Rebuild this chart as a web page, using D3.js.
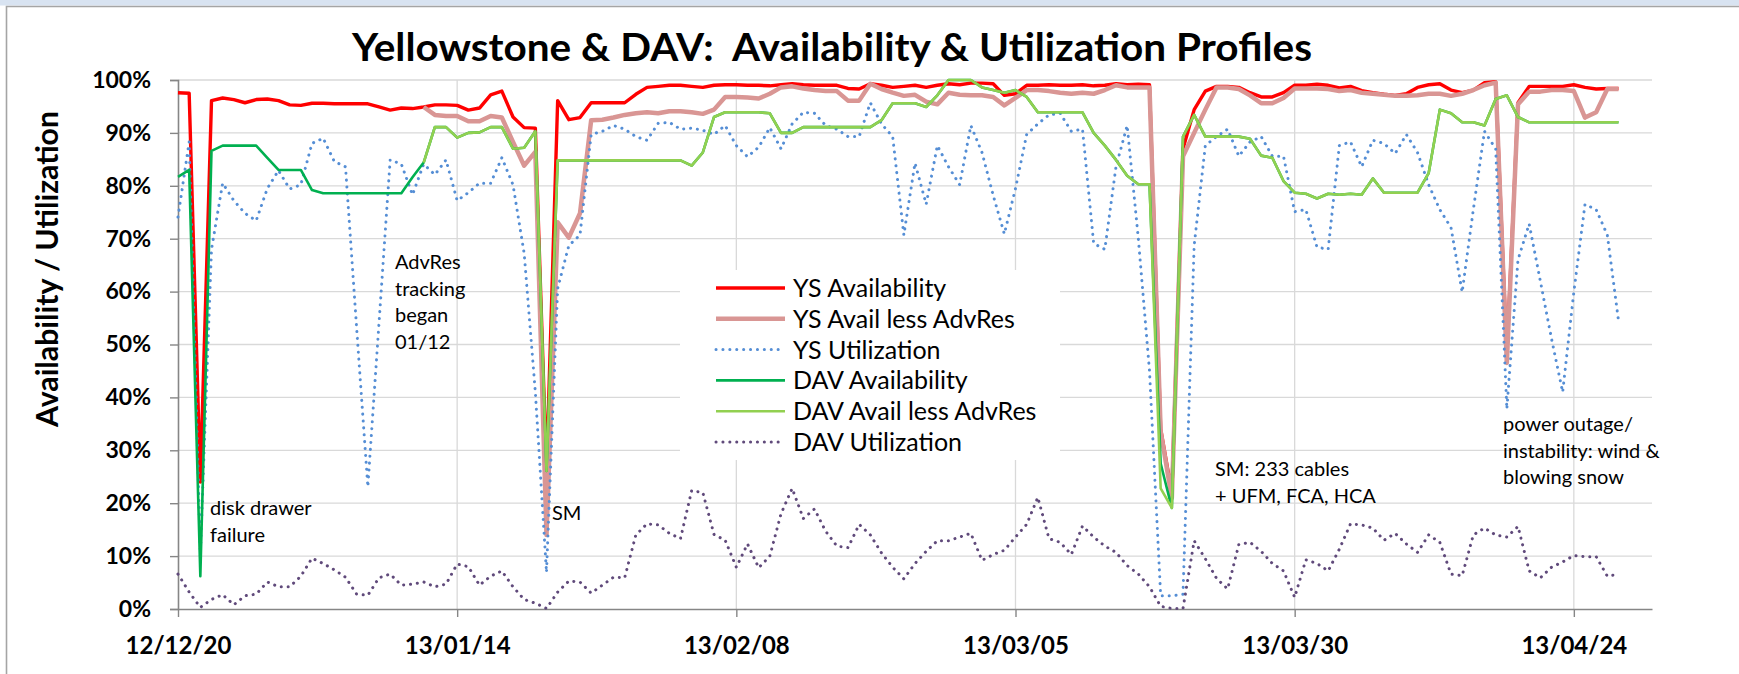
<!DOCTYPE html>
<html><head><meta charset="utf-8">
<script src="https://cdn.jsdelivr.net/npm/d3@7"></script>
<style>
body{margin:0;background:#fff;}
svg{display:block;}
text{font-family:Lato,"Open Sans",sans-serif;}
</style>
</head><body>
<svg id="chart" width="1739" height="674"></svg>
<script>
// ---------------- DATA ----------------
const titleText = "Yellowstone & DAV:  Availability & Utilization Profiles";
const yAxisTitle = "Availability / Utilization";
const startDate = "2012-12-20";
const axisEndDate = "2013-05-01";
const xTickDates = ["2012-12-20","2013-01-14","2013-02-08","2013-03-05","2013-03-30","2013-04-24"];
const yTickValues = [0,10,20,30,40,50,60,70,80,90,100];
const seriesNames = ["YS Availability","YS Avail less AdvRes","YS Utilization","DAV Availability","DAV Avail less AdvRes","DAV Utilization"];

const ysAvail = [
 97.6,97.5,24,96.1,96.6,96.3,95.7,96.3,96.4,96.1,
 95.3,95.2,95.6,95.6,95.5,95.5,95.5,95.5,94.9,94.3,
 94.7,94.6,94.9,95.3,95.3,95.2,94.3,94.7,97.2,97.9,
 93.0,91.0,90.9,26,96.1,92.5,92.9,95.7,95.7,95.7,
 95.7,97.3,98.6,98.8,99.0,99.0,98.8,98.6,99.0,99.1,
 99.1,99.0,99.0,98.9,99.1,99.3,99.1,99.0,99.0,99.0,
 98.4,98.3,99.3,99.0,98.6,98.8,99.0,98.6,99.0,99.3,
 99.1,99.4,99.4,99.3,97.1,97.4,99.0,99.0,99.1,99.0,
 99.0,99.1,98.9,99.0,99.3,99.1,99.2,99.1,34,22,
 87,94.4,97.9,98.8,98.8,98.6,97.6,96.8,96.8,97.6,
 99.0,99.0,99.2,99.0,98.5,98.8,98.0,97.6,97.3,97.1,
 97.4,98.6,99.1,99.3,98.1,97.6,98.1,99.5,99.7,48,
 95.7,98.8,98.8,98.8,98.8,99.1,98.6,98.3,98.4,98.4];

const ysAvailLessAdvRes = [
 null,null,null,null,null,null,null,null,null,null,
 null,null,null,null,null,null,null,null,null,null,
 null,null,94.9,93.4,93.2,93.2,92.2,92.2,93.2,92.9,
 88.3,83.8,86.4,14.0,73.1,70.2,74.8,92.4,92.5,92.9,
 93.4,93.7,93.9,93.7,94.1,94.1,93.9,93.6,94.4,96.8,
 96.8,96.7,96.5,97.4,98.6,98.8,98.4,98.1,97.9,97.9,
 96.1,96.1,99.3,98.3,97.6,97.0,97.2,95.9,95.4,97.6,
 97.2,97.1,97.1,96.8,95.2,96.6,98.1,98.1,97.9,97.6,
 97.4,97.6,97.4,98.1,99.0,98.6,98.6,98.6,33.6,21,
 85.6,90.0,94.4,98.6,98.6,98.3,97.1,95.6,95.6,96.6,
 98.4,98.4,98.4,98.3,97.9,98.1,97.6,97.4,97.2,97.0,
 97.0,97.1,97.4,97.4,97.0,97.4,98.1,99.0,99.5,46.5,
 95.4,97.8,97.8,98.1,98.1,97.9,92.9,93.9,98.3,98.3];

const ysUtil = [
 74.1,88.3,10,68,80.5,77.2,74.8,73.4,79.5,82.9,
 79.4,80.2,88.0,89.0,84.6,83.6,53,23.1,54,84.9,
 84.1,78.3,84.1,82.1,84.9,77.2,78.7,80.5,80.5,85.3,
 80.2,67.2,41,6.9,60.6,68.7,70.7,89.7,90.3,91.4,
 90.7,89.3,88.6,91.8,92.0,90.7,90.9,90.5,89.7,91.4,
 87.6,85.5,87.3,91.0,87.0,91.7,93.9,93.7,91.4,90.7,
 89.3,89.3,95.7,91.7,89.3,70.7,84.3,76.5,87.6,83.6,
 80.2,91.4,86.3,78.2,70.9,79.5,89.7,91.7,93.4,93.7,
 90.3,90.7,69.1,68.0,83.6,91.4,70,45,2.5,2.5,
 2.8,68.7,87.6,89.3,90.7,85.6,88.3,89.3,85.6,85.6,
 75.1,75.5,68.4,68.0,87.6,88.3,83.6,88.6,88.0,86.1,
 89.7,86.3,80.2,75.5,72.1,59.9,75.5,90.3,87.0,37.8,
 66.0,72.8,62.0,51.1,41.0,59.9,76.5,75.5,70.7,54.5];

const davAvail = [
 81.7,83.0,6.2,86.6,87.6,87.6,87.6,87.6,85.3,83.0,
 83.0,83.0,79.2,78.6,78.6,78.6,78.6,78.6,78.6,78.6,
 78.6,81.6,84.4,91.1,91.1,89.1,90.0,90.1,91.1,91.1,
 87.0,87.2,90.3,26.1,84.8,84.8,84.8,84.8,84.8,84.8,
 84.8,84.8,84.8,84.8,84.8,84.8,83.8,86.3,93.0,93.9,
 93.9,93.9,93.9,93.7,90.0,90.0,91.1,91.1,91.1,91.1,
 91.1,91.1,91.1,92.4,95.6,95.6,95.6,94.9,97.1,100,
 100,100,98.6,98.1,97.6,98.1,96.8,93.9,93.9,93.9,
 93.9,93.9,90.0,87.6,84.9,81.9,80.3,80.3,27.5,19.1,
 89.3,93.4,89.3,89.3,89.3,89.3,88.9,85.7,85.3,80.9,
 78.7,78.5,77.6,78.5,78.3,78.5,78.3,81.4,78.7,78.7,
 78.7,78.7,82.4,94.4,93.7,92.0,92.0,91.4,96.4,97.1,
 93.0,92.0,92.0,92.0,92.0,92.0,92.0,92.0,92.0,92.0];

const davAvailLessAdvRes = [
 null,null,null,null,null,null,null,null,null,null,
 null,null,null,null,null,null,null,null,null,null,
 null,null,84.4,91.1,91.1,89.1,90.0,90.1,91.1,91.1,
 87.0,87.2,90.3,26.1,84.8,84.8,84.8,84.8,84.8,84.8,
 84.8,84.8,84.8,84.8,84.8,84.8,83.8,86.3,93.0,93.9,
 93.9,93.9,93.9,93.7,90.0,90.0,91.1,91.1,91.1,91.1,
 91.1,91.1,91.1,92.4,95.6,95.6,95.6,94.9,97.1,100,
 100,100,98.6,98.1,97.6,98.1,96.8,93.9,93.9,93.9,
 93.9,93.9,90.0,87.6,84.9,81.9,80.3,80.3,22.8,19.1,
 89.3,93.4,89.3,89.3,89.3,89.3,88.9,85.7,85.3,80.9,
 78.7,78.5,77.6,78.5,78.3,78.5,78.3,81.4,78.7,78.7,
 78.7,78.7,82.4,94.4,93.7,92.0,92.0,91.4,96.4,97.1,
 93.0,92.0,92.0,92.0,92.0,92.0,92.0,92.0,92.0,92.0];

const davUtil = [
 6.6,3.2,0.3,1.8,2.7,0.8,2.5,2.8,5.1,4.2,
 4.2,6.2,9.6,8.6,7.4,6.0,2.8,2.6,5.9,6.6,
 4.5,4.7,5.1,4.2,4.7,8.5,8.0,4.5,6.2,7.2,
 4.2,1.8,1.1,0.1,3.2,5.3,5.1,3.0,4.5,6.0,
 5.9,14.0,16.1,15.9,14.3,13.3,22.4,22.0,14.1,13.0,
 7.9,12.3,7.8,10.0,18.0,22.8,17.1,18.9,14.7,11.9,
 11.6,16.0,14.0,10.6,7.9,5.7,8.6,10.9,12.9,12.9,
 13.6,14.3,9.2,10.3,11.1,13.6,16.0,21.1,13.3,12.6,
 10.3,15.7,13.6,11.9,10.7,8.2,6.6,4.2,0.5,0.1,
 0.1,12.9,9.5,5.8,3.8,12.2,12.6,10.9,8.6,7.2,
 2.2,9.3,8.6,7.2,11.3,16.1,15.9,15.3,13.0,14.3,
 12.3,10.7,14.0,12.6,6.6,6.3,14.0,15.3,14.0,13.6,
 15.6,7.2,5.9,7.9,8.9,10.1,9.9,9.9,6.2,6.6];

const annotations = [
  {lines:["disk drawer","failure"], x:210, y:515},
  {lines:["AdvRes","tracking","began","01/12"], x:395, y:269},
  {lines:["SM"], x:552, y:520},
  {lines:["SM: 233 cables","+ UFM, FCA, HCA"], x:1215, y:476},
  {lines:["power outage/","instability: wind &","blowing snow"], x:1503, y:431}
];

// ---------------- STYLES ----------------
const styles = [
  {color:"#FF0000", width:3.4, dash:null},
  {color:"#D99694", width:4.5, dash:null},
  {color:"#558ED5", width:3.0, dash:"0.1 6.8"},
  {color:"#00B050", width:2.6, dash:null},
  {color:"#92D050", width:2.6, dash:null},
  {color:"#604A7B", width:3.0, dash:"0.1 6.8"}
];
const seriesValues = [ysAvail, ysAvailLessAdvRes, ysUtil, davAvail, davAvailLessAdvRes, davUtil];

// ---------------- CHART ----------------
const svg = d3.select("#chart");
const W = 1739, H = 674;
const m = {left:178, right:1652, top:80, bottom:609};
const parse = d3.utcParse("%Y-%m-%d");
const start = parse(startDate);
const dates = d3.utcDay.range(start, d3.utcDay.offset(start, ysAvail.length));

const x = d3.scaleUtc().domain([start, parse(axisEndDate)]).range([m.left, m.right]);
const y = d3.scaleLinear().domain([0,100]).range([m.bottom, m.top]);

// slide-like frame
svg.append("rect").attr("x",0).attr("y",0).attr("width",W).attr("height",5.5).attr("fill","#D8E3F1");
svg.append("path").attr("d",`M6.5,${H} V6.5 H${W}`).attr("fill","none").attr("stroke","#A5A5A5").attr("stroke-width",1.6);

// gridlines
const grid = svg.append("g");
grid.selectAll("line.h").data(yTickValues.filter(v=>v>0)).join("line")
  .attr("x1",m.left).attr("x2",m.right).attr("y1",d=>y(d)).attr("y2",d=>y(d))
  .attr("stroke","#D9D9D9").attr("stroke-width",1.3);
grid.selectAll("line.v").data(xTickDates.slice(1).map(parse)).join("line")
  .attr("x1",d=>x(d)).attr("x2",d=>x(d)).attr("y1",m.top).attr("y2",m.bottom)
  .attr("stroke","#D9D9D9").attr("stroke-width",1.3);

// legend background (covers gridlines)
const lg = {x:680, y:270, w:380, h:190};
svg.append("rect").attr("x",lg.x).attr("y",lg.y).attr("width",lg.w).attr("height",lg.h).attr("fill","#fff");

// axes
const yAxis = d3.axisLeft(y).tickValues(yTickValues).tickFormat(d=>d+"%").tickSize(8).tickPadding(19);
const gy = svg.append("g").attr("transform",`translate(${m.left},0)`).call(yAxis);
gy.selectAll("text").attr("font-size",23).attr("font-weight","bold").attr("fill","#000").attr("font-family","Lato");
gy.selectAll("line").attr("stroke","#868686").attr("stroke-width",1.4);
gy.select(".domain").attr("stroke","#868686").attr("stroke-width",1.6);

const xAxis = d3.axisBottom(x).tickValues(xTickDates.map(parse)).tickFormat(d3.utcFormat("%y/%m/%d")).tickSize(8).tickPadding(20).tickSizeOuter(0);
const gx = svg.append("g").attr("transform",`translate(0,${m.bottom})`).call(xAxis);
gx.selectAll("text").attr("font-size",24).attr("font-weight","bold").attr("fill","#000").attr("font-family","Lato");
gx.selectAll("line").attr("stroke","#868686").attr("stroke-width",1.4);
gx.select(".domain").attr("stroke","#868686").attr("stroke-width",1.6);

// series
const line = d3.line().defined(d=>d.v!=null).x(d=>x(d.date)).y(d=>y(d.v));
const gs = svg.append("g");
seriesValues.forEach((vals,i)=>{
  const pts = vals.map((v,j)=>({date:dates[j], v}));
  const p = gs.append("path").datum(pts).attr("d",line)
    .attr("fill","none").attr("stroke",styles[i].color).attr("stroke-width",styles[i].width)
    .attr("stroke-linejoin","round");
  if (styles[i].dash) p.attr("stroke-dasharray",styles[i].dash).attr("stroke-linecap","round");
});

// legend
const lgItems = svg.append("g");
seriesNames.forEach((name,i)=>{
  const cy = 288 + i*30.8;
  const l = lgItems.append("line").attr("x1",716).attr("x2",785).attr("y1",cy).attr("y2",cy)
    .attr("stroke",styles[i].color).attr("stroke-width",styles[i].width);
  if (styles[i].dash) l.attr("stroke-dasharray",styles[i].dash).attr("stroke-linecap","round");
  lgItems.append("text").attr("x",793).attr("y",cy+9).attr("font-size",25).attr("fill","#000").text(name);
});

// annotations
annotations.forEach(a=>{
  const t = svg.append("text").attr("x",a.x).attr("y",a.y).attr("font-size",20).attr("fill","#000");
  a.lines.forEach((s,k)=>t.append("tspan").attr("x",a.x).attr("dy",k===0?0:26.5).text(s));
});

// title
svg.append("text").attr("x",352).attr("y",61).attr("font-size",39).attr("font-weight","bold")
  .attr("xml:space","preserve").style("white-space","pre")
  .attr("textLength",960).attr("lengthAdjust","spacingAndGlyphs").attr("fill","#000").text(titleText);

// y axis title
svg.append("text").attr("transform","translate(58,427) rotate(-90)")
  .attr("font-size",30).attr("font-weight","bold").attr("textLength",316).attr("lengthAdjust","spacingAndGlyphs")
  .attr("fill","#000").text(yAxisTitle);
</script>
</body></html>
